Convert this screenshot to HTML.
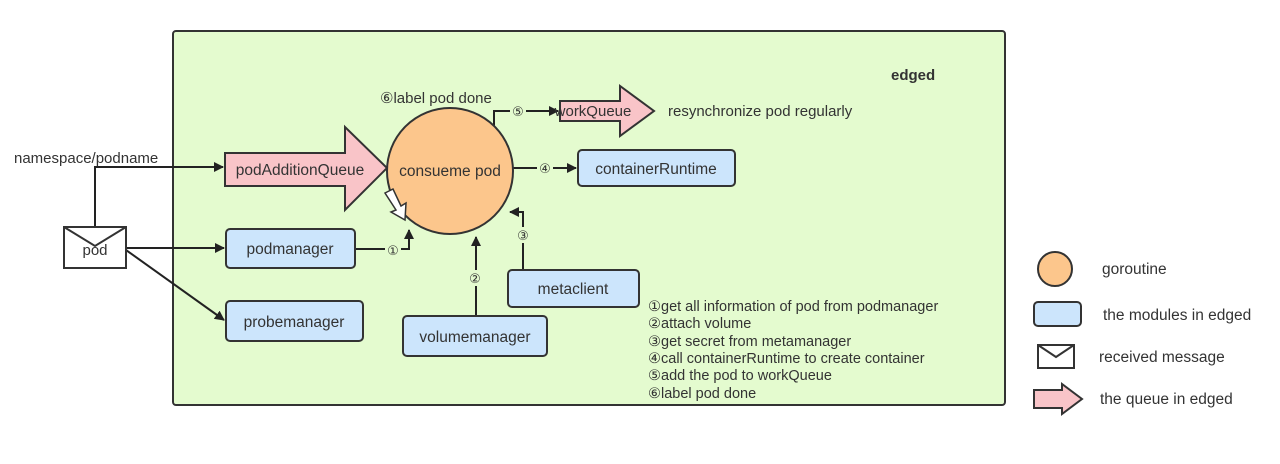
<!DOCTYPE html>
<html><head><meta charset="utf-8"><style>
html,body{margin:0;padding:0;background:#fff;}
svg text{font-family:"Liberation Sans","DejaVu Sans",sans-serif;fill:#333;}
</style></head><body>
<svg width="1280" height="459" viewBox="0 0 1280 459" xmlns="http://www.w3.org/2000/svg">
<defs>
<marker id="a" markerWidth="10" markerHeight="10" refX="9" refY="5" orient="auto" markerUnits="userSpaceOnUse"><path d="M0,0 L10,5 L0,10 z" fill="#222"/></marker>
</defs>
<rect x="173" y="31" width="832" height="374" rx="3" fill="#e4fbcf" stroke="#333" stroke-width="2"/>
<text x="891" y="80" font-size="15" font-weight="bold">edged</text>

<g stroke="#222" stroke-width="2" fill="none">
<path d="M95,227 V167 H223" marker-end="url(#a)"/>
<path d="M126,248 H224" marker-end="url(#a)"/>
<path d="M126,250 L224,320" marker-end="url(#a)"/>
<path d="M355,249 H409 V230" marker-end="url(#a)"/>
<path d="M476,316 V237" marker-end="url(#a)"/>
<path d="M523,270 V212 H510" marker-end="url(#a)"/>
<path d="M513,168 H576" marker-end="url(#a)"/>
<path d="M494,126 V111 H558" marker-end="url(#a)"/>
</g>

<path d="M225,153 H345 V127 L387,168 L345,210 V186 H225 Z" fill="#f9c4c8" stroke="#333" stroke-width="2"/>
<text x="300" y="175" font-size="15.5" text-anchor="middle">podAdditionQueue</text>

<circle cx="450" cy="171" r="63" fill="#fcc68c" stroke="#333" stroke-width="2"/>
<text x="450" y="176" font-size="15.5" text-anchor="middle">consueme pod</text>

<path d="M385,193 L393,189 L401,206 L406,203 L405,220 L391,212 L396,210 Z" fill="#fff" stroke="#333" stroke-width="1.5"/>

<path d="M560,101 H620 V86 L654,111 L620,136 V121 H560 Z" fill="#f9c4c8" stroke="#333" stroke-width="2"/>
<text x="593" y="116" font-size="15" text-anchor="middle">workQueue</text>
<text x="668" y="116" font-size="15">resynchronize pod regularly</text>
<text x="380" y="103" font-size="15">⑥label pod done</text>

<rect x="64" y="227" width="62" height="41" fill="#fff" stroke="#333" stroke-width="2"/>
<path d="M64,227 L95,246 L126,227" fill="none" stroke="#333" stroke-width="2"/>
<text x="95" y="255" font-size="15" text-anchor="middle">pod</text>
<text x="14" y="163" font-size="15">namespace/podname</text>

<g fill="#cce5fc" stroke="#333" stroke-width="2">
<rect x="226" y="229" width="129" height="39" rx="4"/>
<rect x="226" y="301" width="137" height="40" rx="4"/>
<rect x="403" y="316" width="144" height="40" rx="4"/>
<rect x="508" y="270" width="131" height="37" rx="4"/>
<rect x="578" y="150" width="157" height="36" rx="4"/>
</g>
<g font-size="15.5" text-anchor="middle">
<text x="290" y="254">podmanager</text>
<text x="294" y="327">probemanager</text>
<text x="475" y="342">volumemanager</text>
<text x="573" y="294">metaclient</text>
<text x="656" y="174">containerRuntime</text>
</g>
<g font-size="13" text-anchor="middle">
<rect x="385" y="242" width="16" height="15" fill="#e4fbcf"/><text x="393" y="255">①</text>
<rect x="467" y="270" width="16" height="16" fill="#e4fbcf"/><text x="475" y="283">②</text>
<rect x="515" y="227" width="16" height="16" fill="#e4fbcf"/><text x="523" y="240">③</text>
<rect x="537" y="161" width="16" height="15" fill="#e4fbcf"/><text x="545" y="173">④</text>
<rect x="510" y="104" width="16" height="15" fill="#e4fbcf"/><text x="518" y="116">⑤</text>
</g>
<g font-size="14.5">
<text x="648" y="311">①get all information of pod from podmanager</text>
<text x="648" y="328">②attach volume</text>
<text x="648" y="346">③get secret from metamanager</text>
<text x="648" y="363">④call containerRuntime to create container</text>
<text x="648" y="380">⑤add the pod to workQueue</text>
<text x="648" y="398">⑥label pod done</text>
</g>

<circle cx="1055" cy="269" r="17" fill="#fcc68c" stroke="#333" stroke-width="2"/>
<text x="1102" y="274" font-size="15.5">goroutine</text>
<rect x="1034" y="302" width="47" height="24" rx="4" fill="#cce5fc" stroke="#333" stroke-width="2"/>
<text x="1103" y="320" font-size="15.5">the modules in edged</text>
<rect x="1038" y="345" width="36" height="23" fill="#fff" stroke="#333" stroke-width="2"/>
<path d="M1038,345 L1056,357 L1074,345" fill="none" stroke="#333" stroke-width="2"/>
<text x="1099" y="362" font-size="15.5">received message</text>
<path d="M1034,390 H1062 V384 L1082,399 L1062,414 V408 H1034 Z" fill="#f9c4c8" stroke="#333" stroke-width="2"/>
<text x="1100" y="404" font-size="15.5">the queue in edged</text>
</svg>
</body></html>
